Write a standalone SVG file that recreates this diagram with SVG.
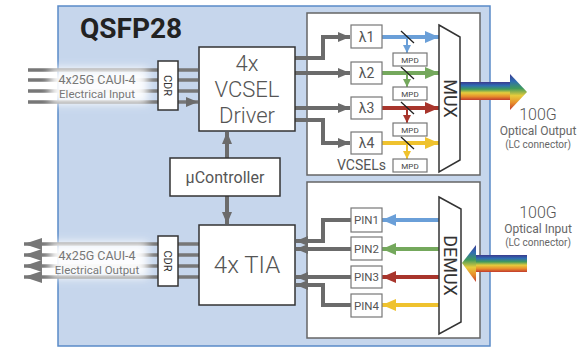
<svg xmlns="http://www.w3.org/2000/svg" width="577" height="348" viewBox="0 0 577 348">
<defs>
<style>
text{font-family:Roboto,"Liberation Sans",sans-serif;fill:#555}
.box{fill:#fff;stroke:#333;stroke-width:1.5}
.sbox{fill:#fff;stroke:#777;stroke-width:1.2}
.gl{fill:none;stroke:#6b6b6b;stroke-width:4}
.el{fill:none;stroke:#777;stroke-width:3.5}
.cl{fill:none;stroke-width:4}
.big{font-size:22px;text-anchor:middle;font-weight:300}
.lam{font-size:14px;text-anchor:middle}
.mpd{font-size:8px;text-anchor:middle;fill:#444}
.pin{font-size:11.5px;text-anchor:middle}
.mux{font-size:18px;text-anchor:middle;fill:#333}
.cdr{font-size:11px;text-anchor:middle;fill:#333}
.elt{font-size:12.5px;text-anchor:middle;fill:#777}
.elt2{font-size:11.5px;text-anchor:middle;fill:#777}
.g100{font-size:16px;text-anchor:middle;font-weight:300}
.opt{font-size:12px;text-anchor:middle;fill:#666}
.lc{font-size:10px;text-anchor:middle;fill:#666}
</style>
<marker id="ag" viewBox="0 0 12 10" refX="12" refY="5" markerWidth="12" markerHeight="10" markerUnits="userSpaceOnUse" orient="auto"><path d="M0,0L12,5L0,10z" fill="#6b6b6b"/></marker>
<marker id="ae" viewBox="0 0 18 12" refX="18" refY="6" markerWidth="18" markerHeight="12" markerUnits="userSpaceOnUse" orient="auto"><path d="M0,0L18,6L0,12z" fill="#777"/></marker>
<marker id="ab" viewBox="0 0 14 12" refX="14" refY="6" markerWidth="14" markerHeight="12" markerUnits="userSpaceOnUse" orient="auto"><path d="M0,0L14,6L0,12z" fill="#6a9fd8"/></marker>
<marker id="agr" viewBox="0 0 14 12" refX="14" refY="6" markerWidth="14" markerHeight="12" markerUnits="userSpaceOnUse" orient="auto"><path d="M0,0L14,6L0,12z" fill="#74a85c"/></marker>
<marker id="ar" viewBox="0 0 14 12" refX="14" refY="6" markerWidth="14" markerHeight="12" markerUnits="userSpaceOnUse" orient="auto"><path d="M0,0L14,6L0,12z" fill="#a8352c"/></marker>
<marker id="ay" viewBox="0 0 14 12" refX="14" refY="6" markerWidth="14" markerHeight="12" markerUnits="userSpaceOnUse" orient="auto"><path d="M0,0L14,6L0,12z" fill="#efc22e"/></marker>
<marker id="sb" viewBox="0 0 8 8" refX="8" refY="4" markerWidth="8" markerHeight="8" markerUnits="userSpaceOnUse" orient="auto"><path d="M0,0L8,4L0,8z" fill="#6a9fd8"/></marker>
<marker id="sgr" viewBox="0 0 8 8" refX="8" refY="4" markerWidth="8" markerHeight="8" markerUnits="userSpaceOnUse" orient="auto"><path d="M0,0L8,4L0,8z" fill="#74a85c"/></marker>
<marker id="sr" viewBox="0 0 8 8" refX="8" refY="4" markerWidth="8" markerHeight="8" markerUnits="userSpaceOnUse" orient="auto"><path d="M0,0L8,4L0,8z" fill="#a8352c"/></marker>
<marker id="sy" viewBox="0 0 8 8" refX="8" refY="4" markerWidth="8" markerHeight="8" markerUnits="userSpaceOnUse" orient="auto"><path d="M0,0L8,4L0,8z" fill="#efc22e"/></marker>
<linearGradient id="rb" x1="0" y1="0" x2="0" y2="1">
<stop offset="0" stop-color="#3b3a8e"/><stop offset="0.2" stop-color="#2f6db3"/><stop offset="0.4" stop-color="#3f9a5c"/><stop offset="0.6" stop-color="#e6cc3c"/><stop offset="0.8" stop-color="#e88f2c"/><stop offset="1" stop-color="#c23a2c"/>
</linearGradient>
<filter id="blur" x="-30%" y="-50%" width="160%" height="200%"><feGaussianBlur stdDeviation="5"/></filter>
</defs>

<g id="module">
<rect x="58" y="6" width="432" height="340" fill="#c6d6ec" stroke="#5a8ac8" stroke-width="1.5"/>
<text x="80" y="38" style="font-size:28px;font-weight:bold;fill:#222">QSFP28</text>
</g>
<g id="tx-panel"><rect x="307" y="13" width="173" height="162" fill="#fff" stroke="#666" stroke-width="1.5"/>
<text x="337" y="170" style="font-size:14px;fill:#555">VCSELs</text></g>
<g id="rx-panel"><rect x="307" y="182" width="173" height="156" fill="#fff" stroke="#666" stroke-width="1.5"/></g>

<g id="connectors">
<path class="el" d="M28,70H158M28,80H158M28,91H158M28,102H158"/>
<path class="el" d="M178,70H198M178,80H198M178,91H198M178,102H198" marker-end="url(#ag)"/>
<path class="el" d="M199,244H178M199,255H178M199,266H178M199,277H178"/>
<path class="el" d="M158,244H24" marker-end="url(#ae)"/>
<path class="el" d="M158,255H24" marker-end="url(#ae)"/>
<path class="el" d="M158,266H24" marker-end="url(#ae)"/>
<path class="el" d="M158,277H24" marker-end="url(#ae)"/>
<path class="gl" d="M227,158V132" marker-end="url(#ag)"/>
<path class="gl" d="M227,196V224" marker-end="url(#ag)"/>
<path class="gl" d="M295,58H323V37H350" marker-end="url(#ag)"/>
<path class="gl" d="M295,73H350" marker-end="url(#ag)"/>
<path class="gl" d="M295,108H350" marker-end="url(#ag)"/>
<path class="gl" d="M295,120H323V143H350" marker-end="url(#ag)"/>
<path class="gl" d="M351,220H323V241H296" marker-end="url(#ag)"/>
<path class="gl" d="M351,249H296" marker-end="url(#ag)"/>
<path class="gl" d="M351,277H296" marker-end="url(#ag)"/>
<path class="gl" d="M351,305H323V285H296" marker-end="url(#ag)"/>
<path class="cl" stroke="#6a9fd8" d="M382,37H439" marker-end="url(#ab)"/>
<path class="cl" stroke="#74a85c" d="M382,73H439" marker-end="url(#agr)"/>
<path class="cl" stroke="#a8352c" d="M382,108H439" marker-end="url(#ar)"/>
<path class="cl" stroke="#efc22e" d="M382,143H439" marker-end="url(#ay)"/>
<path fill="none" stroke-width="2" stroke="#6a9fd8" d="M407,37V53" marker-end="url(#sb)"/>
<path fill="none" stroke-width="2" stroke="#74a85c" d="M407,73V87" marker-end="url(#sgr)"/>
<path fill="none" stroke-width="2" stroke="#a8352c" d="M407,108V123" marker-end="url(#sr)"/>
<path fill="none" stroke-width="2" stroke="#efc22e" d="M407,143V159" marker-end="url(#sy)"/>
<path fill="none" stroke="#222" stroke-width="1.3" d="M401,31L414,43M401,67L414,79M401,102L414,114M401,137L414,149"/>
<path class="cl" stroke="#6a9fd8" d="M439,220H382" marker-end="url(#ab)"/>
<path class="cl" stroke="#74a85c" d="M439,249H382" marker-end="url(#agr)"/>
<path class="cl" stroke="#a8352c" d="M439,277H382" marker-end="url(#ar)"/>
<path class="cl" stroke="#efc22e" d="M439,305H382" marker-end="url(#ay)"/>
<rect x="460" y="82" width="51" height="18" fill="url(#rb)"/>
<polygon points="510,74 527,92 510,110" fill="url(#rb)"/>
<rect x="475" y="255" width="52" height="17" fill="url(#rb)"/>
<polygon points="462,263 476,245 476,282" fill="url(#rb)"/>
</g>

<g id="elec-in-label">
<rect x="50" y="68" width="98" height="36" fill="#fff" opacity="0.95" filter="url(#blur)"/>
<text class="elt" x="97" y="83.5">4x25G CAUI-4</text>
<text class="elt2" x="97" y="97.5">Electrical Input</text>
</g>
<g id="elec-out-label">
<rect x="50" y="242" width="98" height="36" fill="#fff" opacity="0.95" filter="url(#blur)"/>
<text class="elt" x="97" y="259.5">4x25G CAUI-4</text>
<text class="elt2" x="97" y="273.5">Electrical Output</text>
</g>

<g id="cdr-in"><rect class="box" x="158" y="61" width="20" height="49"/><text class="cdr" transform="translate(164,85.5) rotate(90)">CDR</text></g>
<g id="cdr-out"><rect class="box" x="158" y="236" width="20" height="50"/><text class="cdr" transform="translate(164,261) rotate(90)">CDR</text></g>

<g id="driver"><rect class="box" x="199" y="47" width="96" height="84"/>
<text class="big" x="247" y="71">4x</text><text class="big" x="247" y="97">VCSEL</text><text class="big" x="247" y="123">Driver</text></g>
<g id="controller"><rect class="box" x="170" y="158" width="110" height="38"/><text x="225" y="183" style="font-size:16px;text-anchor:middle">µController</text></g>
<g id="tia"><rect class="box" x="199" y="225" width="96" height="80"/><text class="big" x="247" y="273" style="font-size:24px">4x TIA</text></g>

<g id="lambda1"><rect class="sbox" x="351" y="25" width="31" height="23"/><text class="lam" x="366.5" y="42">λ1</text></g>
<g id="lambda2"><rect class="sbox" x="351" y="62" width="31" height="22"/><text class="lam" x="366.5" y="78">λ2</text></g>
<g id="lambda3"><rect class="sbox" x="351" y="97" width="31" height="22"/><text class="lam" x="366.5" y="113">λ3</text></g>
<g id="lambda4"><rect class="sbox" x="351" y="132" width="31" height="22"/><text class="lam" x="366.5" y="148">λ4</text></g>

<g id="mpd1"><rect class="sbox" x="393" y="53" width="34" height="13"/><text class="mpd" x="410" y="62.5">MPD</text></g>
<g id="mpd2"><rect class="sbox" x="393" y="87" width="34" height="13"/><text class="mpd" x="410" y="96.5">MPD</text></g>
<g id="mpd3"><rect class="sbox" x="393" y="123" width="34" height="13"/><text class="mpd" x="410" y="132.5">MPD</text></g>
<g id="mpd4"><rect class="sbox" x="393" y="159" width="34" height="13"/><text class="mpd" x="410" y="168.5">MPD</text></g>

<g id="mux"><polygon points="439,25 460,37 460,160 439,172" fill="#fff" stroke="#333" stroke-width="1.5"/><text class="mux" transform="translate(444,98.5) rotate(90)">MUX</text></g>
<g id="demux"><polygon points="439,197 461,209 461,322 439,334" fill="#fff" stroke="#333" stroke-width="1.5"/><text class="mux" transform="translate(444,265.5) rotate(90)">DEMUX</text></g>

<g id="pin1"><rect class="sbox" x="351" y="208" width="31" height="24"/><text class="pin" x="366.5" y="224">PIN1</text></g>
<g id="pin2"><rect class="sbox" x="351" y="237" width="31" height="23"/><text class="pin" x="366.5" y="253">PIN2</text></g>
<g id="pin3"><rect class="sbox" x="351" y="266" width="31" height="22"/><text class="pin" x="366.5" y="281">PIN3</text></g>
<g id="pin4"><rect class="sbox" x="351" y="294" width="31" height="23"/><text class="pin" x="366.5" y="310">PIN4</text></g>

<g id="optical-output-label">
<text class="g100" x="538" y="120">100G</text>
<text class="opt" x="538" y="135">Optical Output</text>
<text class="lc" x="538" y="148">(LC connector)</text>
</g>
<g id="optical-input-label">
<text class="g100" x="538" y="218">100G</text>
<text class="opt" x="538" y="233">Optical Input</text>
<text class="lc" x="538" y="246">(LC connector)</text>
</g>
</svg>
